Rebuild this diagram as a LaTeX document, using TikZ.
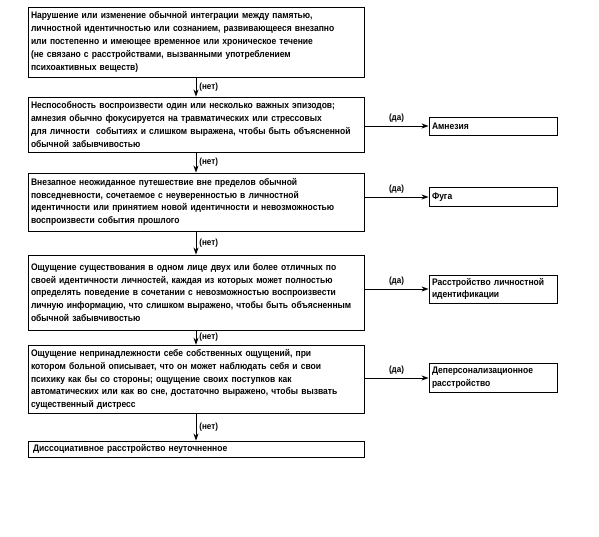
\documentclass[tikz,border=0pt]{standalone}
\usepackage{fontspec}
\setmainfont{Liberation Sans}[FakeStretch=0.895]
\usetikzlibrary{arrows.meta}
\begin{document}
\begin{tikzpicture}[x=1pt,y=-1pt,
  mainbox/.style={draw, line width=0.9pt, rectangle, minimum width=336pt, text width=330pt, inner xsep=3pt, inner ysep=4pt, align=left,
    font=\fontsize{9.5}{12.9}\selectfont\bfseries},
  sidebox/.style={draw, line width=0.9pt, rectangle, minimum width=128pt, text width=122pt, inner sep=3pt, align=left,
    font=\fontsize{9.5}{12.9}\selectfont\bfseries},
  arr/.style={line width=0.8pt, -{Stealth[length=7pt,width=5pt]}},
  lbl/.style={font=\fontsize{9}{10}\selectfont\bfseries, inner sep=3pt}]
\useasboundingbox (0,0) rectangle (599,537);

\node[mainbox, minimum height=70pt] (b1) at (196,42) {Нарушение или изменение обычной интеграции между памятью,\\
личностной идентичностью или сознанием, развивающееся внезапно\\
или постепенно и имеющее временное или хроническое течение\\
(не связано с расстройствами, вызванными употреблением\\
психоактивных веществ)};

\node[mainbox, minimum height=55pt] (b2) at (196,124.5) {Неспособность воспроизвести один или несколько важных эпизодов;\\
амнезия обычно фокусируется на травматических или стрессовых\\
для личности\ \ событиях и слишком выражена, чтобы быть объясненной\\
обычной забывчивостью};

\node[mainbox, minimum height=58pt] (b3) at (196,202) {Внезапное неожиданное путешествие вне пределов обычной\\
повседневности, сочетаемое с неуверенностью в личностной\\
идентичности или принятием новой идентичности и невозможностью\\
воспроизвести события прошлого};

\node[mainbox, minimum height=75pt] (b4) at (196,292.5) {Ощущение существования в одном лице двух или более отличных по\\
своей идентичности личностей, каждая из которых может полностью\\
определять поведение в сочетании с невозможностью воспроизвести\\
личную информацию, что слишком выражено, чтобы быть объясненным\\
обычной забывчивостью};

\node[mainbox, minimum height=67pt] (b5) at (196,379.5) {Ощущение непринадлежности себе собственных ощущений, при\\
котором больной описывает, что он может наблюдать себя и свои\\
психику как бы со стороны; ощущение своих поступков как\\
автоматических или как во сне, достаточно выражено, чтобы вызвать\\
существенный дистресс};

\node[mainbox, minimum height=16pt, inner sep=2pt, text width=332pt] (b6) at (196,449) {\ Диссоциативное расстройство неуточненное};

\node[sidebox, minimum height=18pt] (r1) at (493,126) {Амнезия};
\node[sidebox, minimum height=19pt] (r2) at (493,197) {Фуга};
\node[sidebox, minimum height=27pt] (r3) at (493,289) {Расстройство личностной\\идентификации};
\node[sidebox, minimum height=29pt] (r4) at (493,378) {Деперсонализационное\\расстройство};

\draw[arr] (b1.south) -- node[lbl, right, midway] {(нет)} (b2.north);
\draw[arr] (b2.south) -- node[lbl, right, midway] {(нет)} (b3.north);
\draw[arr] (b3.south) -- node[lbl, right, midway] {(нет)} (b4.north);
\draw[arr] (b4.south) -- node[lbl, right, midway] {(нет)} (b5.north);
\draw[arr] (b5.south) -- node[lbl, right, midway] {(нет)} (b6.north);

\draw[arr] (b2.east |- r1.west) -- node[lbl, above, midway] {(да)} (r1.west);
\draw[arr] (b3.east |- r2.west) -- node[lbl, above, midway] {(да)} (r2.west);
\draw[arr] (b4.east |- r3.west) -- node[lbl, above, midway] {(да)} (r3.west);
\draw[arr] (b5.east |- r4.west) -- node[lbl, above, midway] {(да)} (r4.west);
\end{tikzpicture}
\end{document}
